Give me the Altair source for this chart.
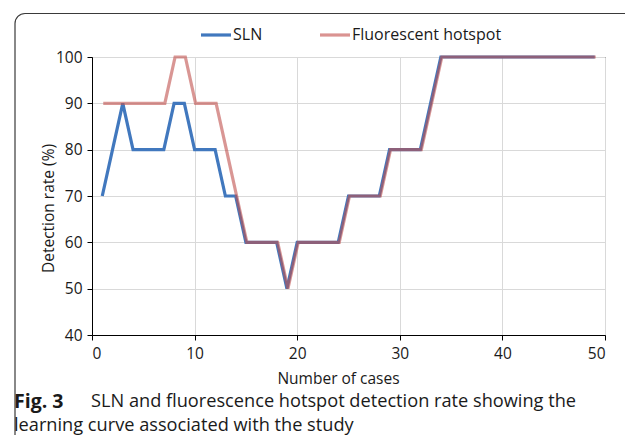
import altair as alt
import pandas as pd

# ---- data ----
cases = list(range(1, 50))
sln = [70, 80, 90, 80, 80, 80, 80, 90, 90, 80, 80, 80, 70, 70, 60, 60, 60, 60, 50, 60,
       60, 60, 60, 60, 70, 70, 70, 70, 80, 80, 80, 80, 90, 100, 100, 100, 100, 100, 100, 100,
       100, 100, 100, 100, 100, 100, 100, 100, 100]
hotspot = [90, 90, 90, 90, 90, 90, 90, 100, 100, 90, 90, 90, 80, 70, 60, 60, 60, 60, 50, 60,
           60, 60, 60, 60, 70, 70, 70, 70, 80, 80, 80, 80, 90, 100, 100, 100, 100, 100, 100, 100,
           100, 100, 100, 100, 100, 100, 100, 100, 100]
series_names = ["SLN", "Fluorescent hotspot"]
x_ticks = [0, 10, 20, 30, 40, 50]
y_ticks = [40, 50, 60, 70, 80, 90, 100]
caption_bold = "Fig. 3"
caption_line1 = "SLN and fluorescence hotspot detection rate showing the"
caption_line2 = "learning curve associated with the study"

FONT = "Open Sans"
TXT = "#1a1a1a"
BLUE = "#4178BE"
RED = "#C0504D"
RED_LIGHT = "#DA9391"

df_sln = pd.DataFrame({"case": cases, "rate": sln, "series": series_names[0]})
df_hot = pd.DataFrame({"case": cases, "rate": hotspot, "series": series_names[1]})

color_scale = alt.Scale(domain=series_names, range=[BLUE, RED_LIGHT])

legend = alt.Legend(
    orient="none", legendX=107, legendY=-39, direction="horizontal", title=None,
    symbolType="stroke", symbolSize=900, symbolStrokeWidth=3.2,
    labelFont=FONT, labelFontSize=16, labelColor=TXT, labelOffset=0,
    columnPadding=50, padding=0,
)

x_enc = alt.X("case:Q", scale=alt.Scale(domain=[0, 50], nice=False),
              axis=alt.Axis(values=x_ticks, title="Number of cases", labelPadding=6,
                            titleX=246, titleY=43, titleBaseline="middle",
                            titleAlign="center"))
y_enc = alt.Y("rate:Q", scale=alt.Scale(domain=[40, 100], nice=False),
              axis=alt.Axis(values=y_ticks, title="Detection rate (%)", labelPadding=5,
                            titleX=-44, titleY=151, titleBaseline="middle", titleAlign="center"))

sln_line = alt.Chart(df_sln).mark_line(strokeWidth=3.2).encode(
    x=x_enc, y=y_enc,
    color=alt.Color("series:N", scale=color_scale, legend=legend),
)
hot_line = alt.Chart(df_hot).mark_line(
    strokeWidth=3.2, xOffset=1, stroke=RED, strokeOpacity=0.6
).encode(x=x_enc, y=y_enc)

box = alt.Chart(pd.DataFrame({"k": [0]})).mark_rect(
    fill="transparent", stroke="#3a3a3a", strokeWidth=1.2, cornerRadius=10
).encode(x=alt.value(-77), x2=alt.value(560), y=alt.value(-43.5), y2=alt.value(500))

cap_b = alt.Chart(pd.DataFrame({"t": [caption_bold]})).mark_text(
    align="left", baseline="middle", font=FONT, fontSize=19.5, fontWeight="bold", color=TXT
).encode(text="t:N", x=alt.value(-78), y=alt.value(345))
cap_1 = alt.Chart(pd.DataFrame({"t": [caption_line1]})).mark_text(
    align="left", baseline="middle", font=FONT, fontSize=18.2, color=TXT
).encode(text="t:N", x=alt.value(-1), y=alt.value(345))
cap_2 = alt.Chart(pd.DataFrame({"t": [caption_line2]})).mark_text(
    align="left", baseline="middle", font=FONT, fontSize=18.2, color=TXT
).encode(text="t:N", x=alt.value(-78), y=alt.value(369))

chart = alt.layer(box, sln_line, hot_line, cap_b, cap_1, cap_2).properties(
    width=513, height=278,
    autosize=alt.AutoSizeParams(type="none"),
    padding={"left": 84, "top": 49, "right": 20, "bottom": 100},
    background="white",
).configure_view(stroke="black", strokeWidth=1).configure_axis(
    grid=True, gridColor="#D9D9D9", gridWidth=1,
    domainColor="black", tickColor="black", tickSize=5,
    labelFont=FONT, labelFontSize=15.5, labelColor=TXT,
    titleFont=FONT, titleFontSize=15.5, titleFontWeight="normal", titleColor=TXT,
)

chart.save("out.html", embed_options={"renderer": "svg", "actions": False})
